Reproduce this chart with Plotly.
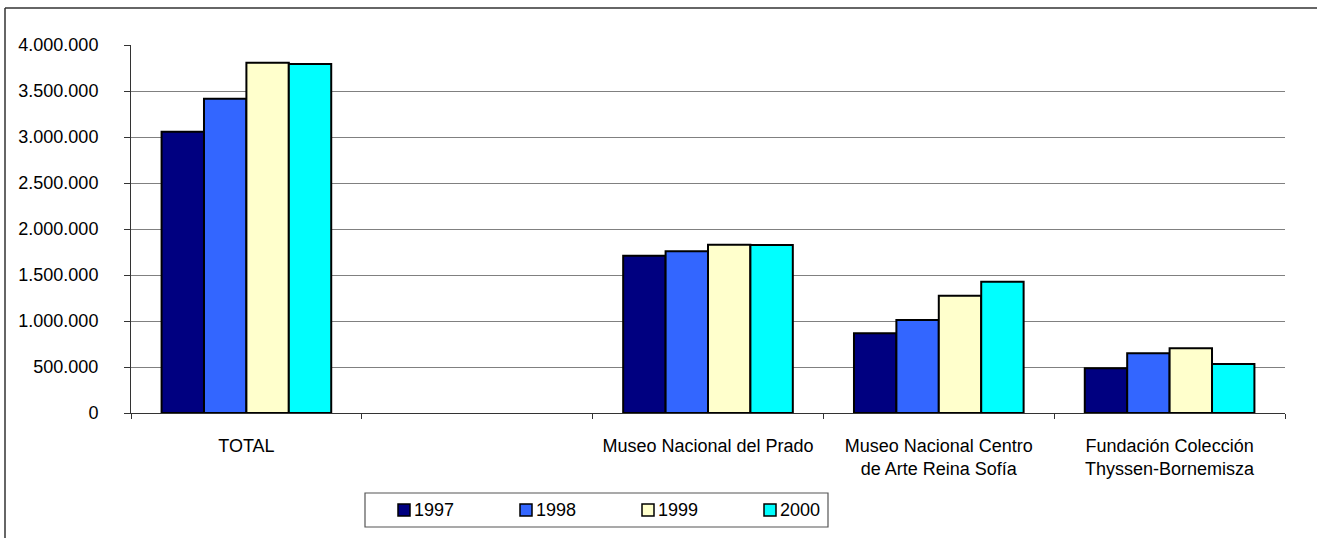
import plotly.graph_objects as go

categories = ["TOTAL", " ", "Museo Nacional del Prado",
              "Museo Nacional Centro<br>de Arte Reina Sofía",
              "Fundación Colección<br>Thyssen-Bornemisza"]
years = ["1997", "1998", "1999", "2000"]
v1997 = [3058000, None, 1710000, 866000, 486000]
v1998 = [3416000, None, 1757000, 1011000, 649000]
v1999 = [3808000, None, 1830000, 1275000, 703000]
v2000 = [3793000, None, 1826000, 1427000, 533000]
series = [v1997, v1998, v1999, v2000]
colors = ["#000080", "#3366FF", "#FFFFCC", "#00FFFF"]
ytickvals = [0, 500000, 1000000, 1500000, 2000000, 2500000, 3000000, 3500000, 4000000]

W, H = 1317, 538
L, R, T, B = 131, 32, 45, 125
FONT = "Liberation Sans, Arial, sans-serif"
FS = 18

def px2x(p):
    return (p - L) / (W - L - R)

def px2y(p):
    return 1 - (p - T) / (H - T - B)

fig = go.Figure()
for name, vals, col in zip(years, series, colors):
    fig.add_trace(go.Bar(x=categories, y=vals, name=name,
                         marker=dict(color=col, line=dict(color="black", width=2)),
                         showlegend=False))

shapes = []
annotations = []
# outer frame (left and top edges visible; right and bottom lie outside the view)
shapes.append(dict(type="line", xref="paper", yref="paper",
                   x0=px2x(5), x1=px2x(5), y0=px2y(700), y1=px2y(8),
                   line=dict(color="#333333", width=1.5), layer="below"))
shapes.append(dict(type="line", xref="paper", yref="paper",
                   x0=px2x(5), x1=px2x(1500), y0=px2y(8), y1=px2y(8),
                   line=dict(color="#333333", width=1.5), layer="below"))
# legend box
shapes.append(dict(type="rect", xref="paper", yref="paper",
                   x0=px2x(365), x1=px2x(828), y0=px2y(527), y1=px2y(493),
                   line=dict(color="#555555", width=1.2), fillcolor="white"))
sw_x = [398, 520, 642, 764]
for sx, name, col in zip(sw_x, years, colors):
    shapes.append(dict(type="rect", xref="paper", yref="paper",
                       x0=px2x(sx), x1=px2x(sx + 12), y0=px2y(516), y1=px2y(504),
                       line=dict(color="black", width=1.5), fillcolor=col))
    annotations.append(dict(text=name, xref="paper", yref="paper",
                            x=px2x(sx + 14), y=px2y(510), xanchor="left", yanchor="middle",
                            showarrow=False, font=dict(family=FONT, size=FS, color="black")))

fig.update_layout(
    width=W, height=H,
    margin=dict(l=L, r=R, t=T, b=B),
    paper_bgcolor="white", plot_bgcolor="white",
    barmode="group", bargap=0.265, bargroupgap=0,
    separators=",.",
    font=dict(family=FONT, size=FS, color="black"),
    shapes=shapes, annotations=annotations,
    showlegend=False,
)
fig.update_xaxes(type="category", categoryorder="array", categoryarray=categories,
                 showline=True, linecolor="#333333", linewidth=1,
                 ticks="outside", tickson="boundaries", ticklen=5, tickcolor="#333333",
                 showgrid=False, ticklabelstandoff=16,
                 tickfont=dict(family=FONT, size=FS, color="black"))
fig.update_yaxes(range=[0, 4000000], tickvals=ytickvals, tickformat=",d",
                 showline=True, linecolor="#333333", linewidth=1,
                 ticks="outside", ticklen=6, tickcolor="#333333",
                 showgrid=True, gridcolor="#808080", gridwidth=1,
                 zeroline=False, ticklabelstandoff=22,
                 tickfont=dict(family=FONT, size=FS, color="black"))

fig.write_html("out.html", config={"displayModeBar": False},
               post_script="document.body.style.margin='0';")
